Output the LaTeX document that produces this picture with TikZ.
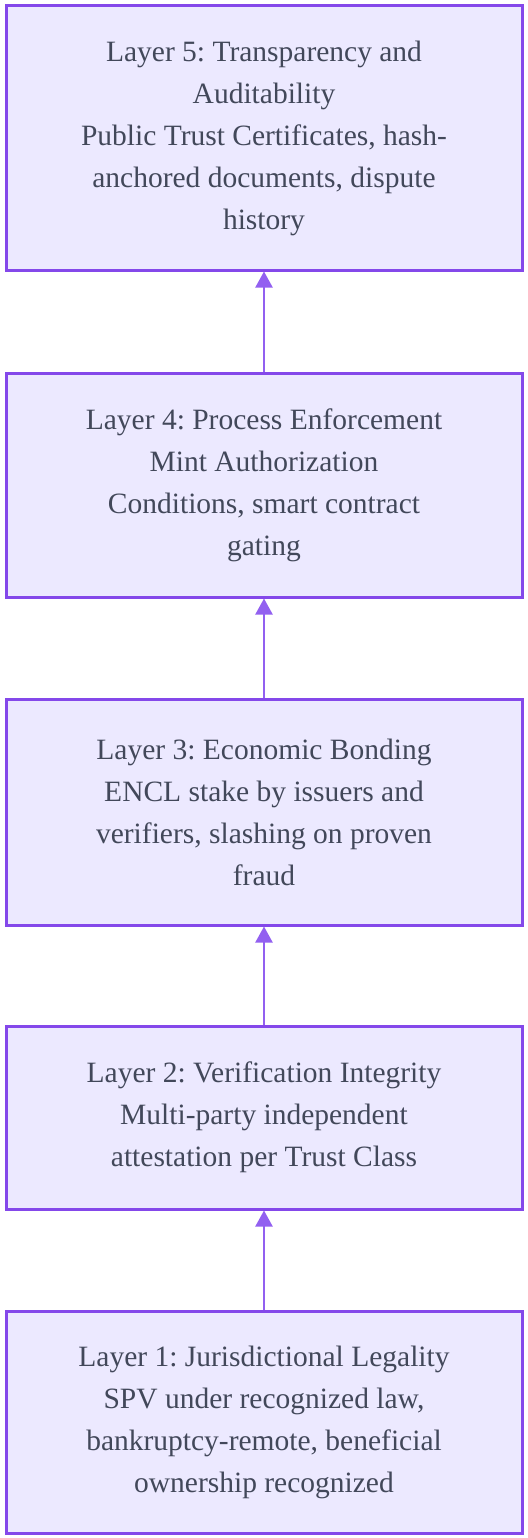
\documentclass[tikz,border=0pt]{standalone}
\usepackage{fontspec}
\setmainfont{Liberation Serif}
\frenchspacing
\usetikzlibrary{arrows.meta}
\definecolor{layerfill}{RGB}{236,233,255}
\definecolor{layerline}{RGB}{132,72,234}
\definecolor{linkline}{RGB}{146,96,240}
\definecolor{layertext}{RGB}{66,72,90}
\tikzset{
  layerbox/.style={draw=layerline, fill=layerfill, line width=3pt,
    minimum width=516pt, inner sep=0pt, outer sep=1.5pt, align=center,
    text=layertext, font=\fontsize{29.5pt}{42pt}\selectfont},
  link/.style={draw=linkline, line width=2.2pt,
    -{Triangle[width=17pt,length=16pt]}}
}
\begin{document}
\begin{tikzpicture}[x=1pt,y=1pt]
\useasboundingbox (0,0) rectangle (527,-1538);
\node[layerbox, minimum height=264pt] (l5) at (264,-138)
  {Layer 5: Transparency and\\Auditability\\Public Trust Certificates, hash-\\anchored documents, dispute\\history};
\node[layerbox, minimum height=224pt] (l4) at (264,-485)
  {Layer 4: Process Enforcement\\Mint Authorization\\Conditions, smart contract\\gating};
\node[layerbox, minimum height=226pt] (l3) at (264,-812)
  {Layer 3: Economic Bonding\\ENCL stake by issuers and\\verifiers, slashing on proven\\fraud};
\node[layerbox, minimum height=183pt] (l2) at (264,-1117.5)
  {Layer 2: Verification Integrity\\Multi-party independent\\attestation per Trust Class};
\node[layerbox, minimum height=222pt] (l1) at (264,-1422)
  {Layer 1: Jurisdictional Legality\\SPV under recognized law,\\bankruptcy-remote, beneficial\\ownership recognized};
\draw[link] (l1.north) -- (l2.south);
\draw[link] (l2.north) -- (l3.south);
\draw[link] (l3.north) -- (l4.south);
\draw[link] (l4.north) -- (l5.south);
\end{tikzpicture}
\end{document}
